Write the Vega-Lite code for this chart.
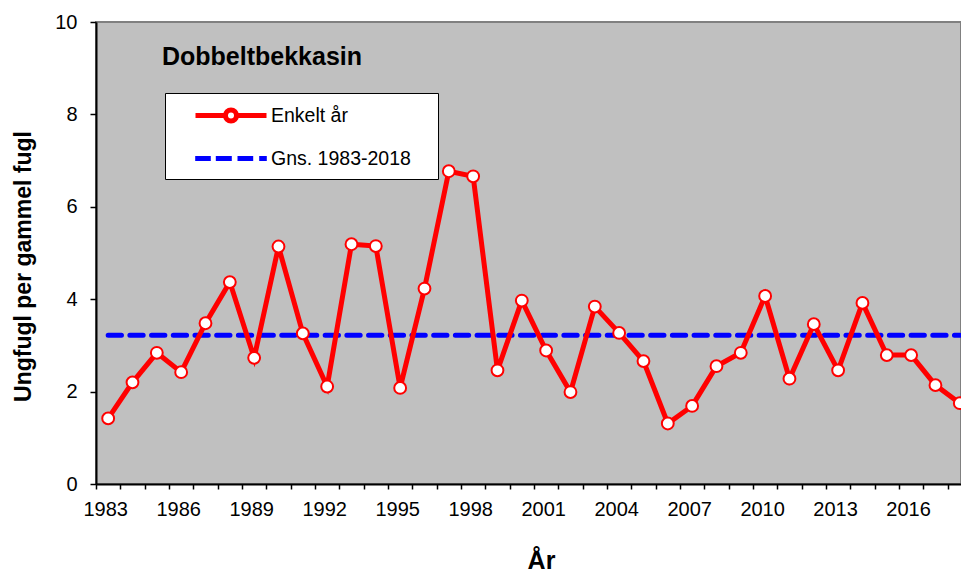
{
  "$schema": "https://vega.github.io/schema/vega-lite/v6.json",
  "width": 865,
  "height": 462,
  "autosize": {"type": "none"},
  "padding": {"left": 96, "top": 22, "right": 0, "bottom": 85},
  "background": "white",
  "config": {
    "font": "Liberation Sans",
    "view": {"fill": "#C0C0C0", "stroke": "#808080", "strokeWidth": 2}
  },
  "title": {
    "text": "Dobbeltbekkasin",
    "anchor": "start",
    "frame": "group",
    "font": "Liberation Sans",
    "fontSize": 25,
    "fontWeight": "bold",
    "color": "black",
    "baseline": "alphabetic",
    "offset": 0,
    "dx": 66,
    "dy": 78
  },
  "datasets": {
    "years": [
      {"year": 1983, "value": 1.42, "serie": "Enkelt år"},
      {"year": 1984, "value": 2.2, "serie": "Enkelt år"},
      {"year": 1985, "value": 2.84, "serie": "Enkelt år"},
      {"year": 1986, "value": 2.42, "serie": "Enkelt år"},
      {"year": 1987, "value": 3.48, "serie": "Enkelt år"},
      {"year": 1988, "value": 4.37, "serie": "Enkelt år"},
      {"year": 1989, "value": 2.73, "serie": "Enkelt år"},
      {"year": 1990, "value": 5.14, "serie": "Enkelt år"},
      {"year": 1991, "value": 3.26, "serie": "Enkelt år"},
      {"year": 1992, "value": 2.11, "serie": "Enkelt år"},
      {"year": 1993, "value": 5.19, "serie": "Enkelt år"},
      {"year": 1994, "value": 5.15, "serie": "Enkelt år"},
      {"year": 1995, "value": 2.08, "serie": "Enkelt år"},
      {"year": 1996, "value": 4.23, "serie": "Enkelt år"},
      {"year": 1997, "value": 6.77, "serie": "Enkelt år"},
      {"year": 1998, "value": 6.66, "serie": "Enkelt år"},
      {"year": 1999, "value": 2.46, "serie": "Enkelt år"},
      {"year": 2000, "value": 3.97, "serie": "Enkelt år"},
      {"year": 2001, "value": 2.89, "serie": "Enkelt år"},
      {"year": 2002, "value": 1.99, "serie": "Enkelt år"},
      {"year": 2003, "value": 3.84, "serie": "Enkelt år"},
      {"year": 2004, "value": 3.27, "serie": "Enkelt år"},
      {"year": 2005, "value": 2.66, "serie": "Enkelt år"},
      {"year": 2006, "value": 1.31, "serie": "Enkelt år"},
      {"year": 2007, "value": 1.69, "serie": "Enkelt år"},
      {"year": 2008, "value": 2.55, "serie": "Enkelt år"},
      {"year": 2009, "value": 2.84, "serie": "Enkelt år"},
      {"year": 2010, "value": 4.07, "serie": "Enkelt år"},
      {"year": 2011, "value": 2.28, "serie": "Enkelt år"},
      {"year": 2012, "value": 3.46, "serie": "Enkelt år"},
      {"year": 2013, "value": 2.46, "serie": "Enkelt år"},
      {"year": 2014, "value": 3.92, "serie": "Enkelt år"},
      {"year": 2015, "value": 2.79, "serie": "Enkelt år"},
      {"year": 2016, "value": 2.79, "serie": "Enkelt år"},
      {"year": 2017, "value": 2.14, "serie": "Enkelt år"},
      {"year": 2018, "value": 1.75, "serie": "Enkelt år"}
    ],
    "mean": [
      {"year": 1983, "value": 3.22, "serie": "Gns. 1983-2018"},
      {"year": 2018, "value": 3.22, "serie": "Gns. 1983-2018"}
    ]
  },
  "encoding": {
    "y": {
      "field": "value",
      "type": "quantitative",
      "scale": {"domain": [0, 10], "nice": false, "zero": true},
      "axis": {
        "values": [0, 2, 4, 6, 8, 10],
        "grid": false,
        "tickSize": 6,
        "tickColor": "black",
        "tickWidth": 1.5,
        "domainColor": "black",
        "domainWidth": 2,
        "labelFontSize": 20,
        "labelColor": "black",
        "labelPadding": 13,
        "title": "Ungfugl per gammel fugl",
        "titleFontSize": 23,
        "titleFontWeight": "bold",
        "titleColor": "black",
        "titleAngle": 270,
        "titleX": -73,
        "titleY": 244,
        "titleAlign": "center",
        "titleBaseline": "middle"
      }
    }
  },
  "layer": [
    {
      "data": {"name": "mean"},
      "mark": {"type": "line", "strokeWidth": 5, "strokeDash": [13.3, 8.4], "strokeCap": "round", "clip": true},
      "encoding": {
        "x": {
          "field": "year",
          "type": "quantitative",
          "scale": {"domain": [1982.5, 2018.05], "nice": false, "zero": false},
          "axis": {
            "orient": "bottom",
            "values": [1982.5, 1983.5, 1984.5, 1985.5, 1986.5, 1987.5, 1988.5, 1989.5, 1990.5, 1991.5, 1992.5, 1993.5, 1994.5, 1995.5, 1996.5, 1997.5, 1998.5, 1999.5, 2000.5, 2001.5, 2002.5, 2003.5, 2004.5, 2005.5, 2006.5, 2007.5, 2008.5, 2009.5, 2010.5, 2011.5, 2012.5, 2013.5, 2014.5, 2015.5, 2016.5, 2017.5],
            "labels": false,
            "grid": false,
            "ticks": true,
            "tickSize": 5,
            "tickColor": "black",
            "tickWidth": 1.5,
            "domain": true,
            "domainColor": "black",
            "domainWidth": 2,
            "title": null
          }
        },
        "color": {
          "field": "serie",
          "type": "nominal",
          "scale": {"domain": ["Enkelt år", "Gns. 1983-2018"], "range": ["#FF0000", "#0000FF"]}
        }
      }
    },
    {
      "data": {"name": "years"},
      "mark": {"type": "line", "strokeWidth": 5, "clip": true},
      "encoding": {
        "x": {
          "field": "year",
          "type": "quantitative",
          "axis": {
            "orient": "bottom",
            "values": [1983, 1986, 1989, 1992, 1995, 1998, 2001, 2004, 2007, 2010, 2013, 2016],
            "format": "d",
            "ticks": false,
            "tickSize": 0,
            "domain": false,
            "grid": false,
            "labelFontSize": 20,
            "labelColor": "black",
            "labelPadding": 15,
            "labelOffset": -3,
            "title": "År",
            "titleFontSize": 25,
            "titleFontWeight": "bold",
            "titleColor": "black",
            "titleX": 445,
            "titleY": 84,
            "titleAlign": "center",
            "titleBaseline": "alphabetic"
          }
        },
        "color": {"field": "serie", "type": "nominal"}
      }
    },
    {
      "data": {"name": "years"},
      "mark": {"type": "point", "filled": false, "fill": "white", "fillOpacity": 1, "stroke": "#FF0000", "strokeWidth": 2, "size": 140, "opacity": 1},
      "encoding": {
        "x": {"field": "year", "type": "quantitative", "axis": null}
      }
    },
    {
      "data": {"name": "mean"},
      "mark": {"type": "point", "opacity": 0},
      "encoding": {
        "x": {"field": "year", "type": "quantitative", "axis": null},
        "color": {
          "field": "serie",
          "type": "nominal",
          "legend": {
            "title": null,
            "orient": "none",
            "legendX": 69,
            "legendY": 71,
            "fillColor": "white",
            "strokeColor": "black",
            "padding": 10,
            "rowPadding": 15,
            "symbolSize": 400,
            "symbolStrokeWidth": 5,
            "symbolFillColor": "white",
            "symbolOpacity": 1,
            "symbolOffset": 43.5,
            "labelOffset": 27.5,
            "labelFontSize": 19.5,
            "labelColor": "black",
            "labelLimit": 400,
            "labelExpr": "datum.label + '\u00a0\u00a0\u00a0\u200b'"
          }
        },
        "shape": {
          "field": "serie",
          "type": "nominal",
          "scale": {
            "domain": ["Enkelt år", "Gns. 1983-2018"],
            "range": [
              "M-3.55,0H-0.6M0.6,0H3.55M0.55,0A0.55,0.55,0,1,1,-0.55,0A0.55,0.55,0,1,1,0.55,0Z",
              "M-3.58,0H-2.02M-1.52,0H0.08M0.65,0H2.22M2.82,0H3.58"
            ]
          },
          "legend": {
            "title": null,
            "orient": "none",
            "legendX": 69,
            "legendY": 71,
            "fillColor": "white",
            "strokeColor": "black",
            "padding": 10,
            "rowPadding": 15,
            "symbolSize": 400,
            "symbolStrokeWidth": 5,
            "symbolFillColor": "white",
            "symbolOpacity": 1,
            "symbolOffset": 43.5,
            "labelOffset": 27.5,
            "labelFontSize": 19.5,
            "labelColor": "black",
            "labelLimit": 400,
            "labelExpr": "datum.label + '\u00a0\u00a0\u00a0\u200b'"
          }
        }
      }
    }
  ],
  "resolve": {"axis": {"x": "independent"}}
}
